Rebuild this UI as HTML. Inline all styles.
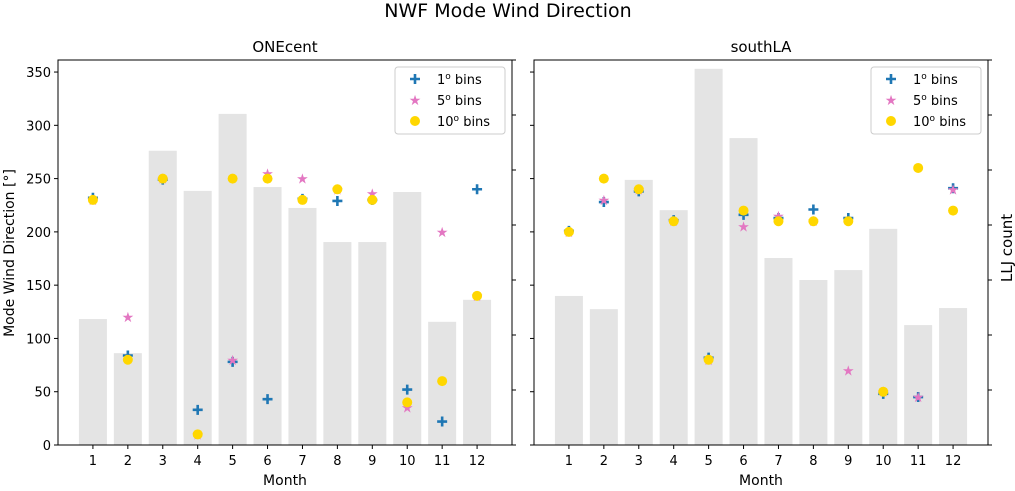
<!DOCTYPE html>
<html><head><meta charset="utf-8"><style>
body{margin:0;background:#fff;font-family:"Liberation Sans","DejaVu Sans",sans-serif}
svg text{font-family:"DejaVu Sans","Liberation Sans",sans-serif}
</style></head><body>
<svg id="c" width="1015" height="486" xmlns="http://www.w3.org/2000/svg">
<text x="508" y="17" font-size="19" text-anchor="middle">NWF Mode Wind Direction</text>
<text x="14" y="253" font-size="14" text-anchor="middle" transform="rotate(-90 14 253)">Mode Wind Direction [°]</text>
<text x="1012" y="248" font-size="15" text-anchor="middle" transform="rotate(-90 1012 248)">LLJ count</text>
</svg>
<script>
const months=[1,2,3,4,5,6,7,8,9,10,11,12];
const yTicks=[0,50,100,150,200,250,300,350];
const countTicks=[0,10,20,30,40,50,60,70];
const titles=["ONEcent","southLA"];
const countsL=[22.9,16.7,53.5,46.2,60.2,46.9,43.1,36.9,36.9,46,22.4,26.4];
const countsR=[27.1,24.7,48.2,42.7,68.4,55.8,34,30,31.8,39.3,21.8,24.9];
const b1L=[232,84,249,33,78,43,231,229,230,52,22,240];
const b5L=[230,120,250,10,80,255,250,240,236,35,200,140];
const b10L=[230,80,250,10,250,250,230,240,230,40,60,140];
const b1R=[201,228,238,211,82,216,213,221,213,48,45,241];
const b5R=[200,230,240,210,80,205,215,210,70,50,45,240];
const b10R=[200,250,240,210,80,220,210,210,210,50,260,220];
const panels=[{x0:58,c:countsL,s:[b1L,b5L,b10L],labels:true},{x0:534,c:countsR,s:[b1R,b5R,b10R],labels:false}];
const svg=document.getElementById('c');const NS="http://www.w3.org/2000/svg";
function el(t,a,p){const e=document.createElementNS(NS,t);for(const k in a)e.setAttribute(k,a[k]);(p||svg).appendChild(e);return e;}
const W=454,T0=60,B0=445;
const Y=v=>B0-v*(B0-T0)/361.3;
const YC=v=>B0-v*(B0-T0)/70;
panels.forEach((p,pi)=>{
 const X=m=>p.x0+m*W/13;
 const g=el('g',{});
 
 
 p.c.forEach((v,i)=>{const r=el('rect',{x:X(months[i])-14,y:YC(v),width:28,height:B0-YC(v),fill:'#e4e4e4'},g);
  
  });
 p.s[0].forEach((v,i)=>{const x=X(months[i]),y=Y(v);const m=el('path',{d:`M${x-5} ${y}H${x+5}M${x} ${y-5}V${y+5}`,stroke:'#1f77b4','stroke-width':2.6},g);
  
  });
 p.s[1].forEach((v,i)=>{const m=el('text',{x:X(months[i]),y:Y(v)+5,'font-size':14,fill:'#e377c2','text-anchor':'middle'},g);m.textContent='★';
  
  });
 p.s[2].forEach((v,i)=>{const m=el('circle',{cx:X(months[i]),cy:Y(v),r:5,fill:'#ffd700'},g);
  
  });
 el('rect',{x:p.x0,y:T0,width:W,height:B0-T0,fill:'none',stroke:'#000','stroke-width':1},g);
 const t=el('text',{x:p.x0+W/2,y:52,'font-size':15,'text-anchor':'middle'},g);t.textContent=titles[pi];
 
 
 months.forEach(m=>{el('line',{x1:X(m),x2:X(m),y1:B0,y2:B0+4,stroke:'#000'},g);
  const l=el('text',{x:X(m),y:B0+20,'font-size':13,'text-anchor':'middle'},g);l.textContent=m;
  
  });
 const xl=el('text',{x:p.x0+W/2,y:485,'font-size':14,'text-anchor':'middle'},g);xl.textContent='Month';
 
 
 yTicks.forEach(v=>{el('line',{x1:p.x0,x2:p.x0-4,y1:Y(v),y2:Y(v),stroke:'#000'},g);
  if(p.labels){const l=el('text',{x:p.x0-7,y:Y(v)+5,'font-size':13,'text-anchor':'end'},g);l.textContent=v;
  
  }});
 countTicks.forEach(v=>el('line',{x1:p.x0+W,x2:p.x0+W+4,y1:YC(v),y2:YC(v),stroke:'#000'},g));
 const lx=p.x0+W-117,ly=67;
 const lg=el('g',{},g);
 
 
 el('rect',{x:lx,y:ly,width:110,height:67,rx:3,fill:'#fff','fill-opacity':0.8,stroke:'#ccc'},lg);
 const names=['1','5','10'];
 names.forEach((n,k)=>{const cy=ly+12+k*21,cx=lx+20;
  if(k==0)el('path',{d:`M${cx-5} ${cy}H${cx+5}M${cx} ${cy-5}V${cy+5}`,stroke:'#1f77b4','stroke-width':2.6},lg);
  if(k==1){const s=el('text',{x:cx,y:cy+5,'font-size':14,fill:'#e377c2','text-anchor':'middle'},lg);s.textContent='★';}
  if(k==2)el('circle',{cx:cx,cy:cy,r:5,fill:'#ffd700'},lg);
  const tx=el('text',{x:lx+42,y:cy+5,'font-size':13},lg);
  tx.innerHTML=n+'<tspan dy="-5" font-size="9">o</tspan><tspan dy="5"> bins</tspan>';
  
  });
});
</script>
</body></html>
